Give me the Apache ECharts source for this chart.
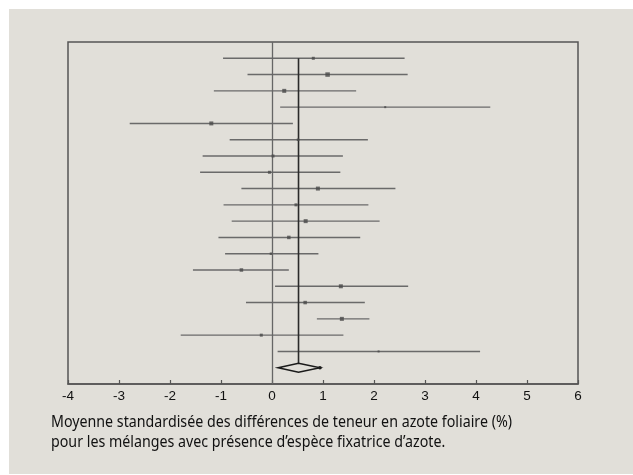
<!DOCTYPE html>
<html><head><meta charset="utf-8">
<script src="https://cdn.jsdelivr.net/npm/echarts@6/dist/echarts.min.js"></script>
<style>html,body{margin:0;padding:0;background:#fff}#c{width:633px;height:475px}</style>
</head><body><div id="c"></div>
<script>
// Study rows (top to bottom): effect size and 95% CI
const rows = [1,2,3,4,5,6,7,8,9,10,11,12,13,14,15,16,17,18,19];
const effect = [0.81,1.09,0.24,2.22,-1.19,0.51,0.02,-0.05,0.90,0.47,0.66,0.33,-0.02,-0.60,1.35,0.65,1.37,-0.21,2.09];
const ciLow  = [-0.96,-0.48,-1.14,0.16,-2.79,-0.83,-1.36,-1.41,-0.60,-0.95,-0.79,-1.05,-0.92,-1.55,0.06,-0.51,0.88,-1.79,0.11];
const ciHigh = [2.60,2.66,1.65,4.28,0.41,1.88,1.39,1.34,2.42,1.89,2.11,1.73,0.91,0.33,2.67,1.82,1.91,1.40,4.08];
const weights = [3,4.5,4,2,4,2.5,3,3,4,3,4,3.5,2.5,3.5,4,3.5,4,3,2];
// Pooled estimate
const pooled = {low: 0.12, mean: 0.52, high: 0.94, row: 20};
const xTicks = [-4,-3,-2,-1,0,1,2,3,4,5,6];
const caption = ["Moyenne standardisée des différences de teneur en azote foliaire (%)",
                 "pour les mélanges avec présence d’espèce fixatrice d’azote."];

const chart = echarts.init(document.getElementById('c'));
const ciData = rows.map((r,i)=>[ciLow[i], ciHigh[i], r]);
const ptData = rows.map((r,i)=>[effect[i], r, weights[i]]);

// measure caption to fit the original width
const cv = document.createElement('canvas').getContext('2d');
const capFont = '15.5px "Noto Sans"';
cv.font = capFont;
const w1 = cv.measureText(caption[0]).width;
const sx = 461 / w1;

chart.setOption({
  backgroundColor: '#fff',
  animation: false,
  graphic: [
    {type:'rect', shape:{x:9,y:9,width:624,height:465}, style:{fill:'#e1dfd9'}, z:-10},
    {type:'text', x:51, y:423, scaleX:sx, style:{text:caption[0], font:capFont, fill:'#111', textVerticalAlign:'middle'}},
    {type:'text', x:51, y:443, scaleX:sx, style:{text:caption[1], font:capFont, fill:'#111', textVerticalAlign:'middle'}}
  ],
  grid: {left:68, right:55, top:42, bottom:91, show:true, borderColor:'#555', borderWidth:1.5, backgroundColor:'transparent'},
  xAxis: {
    type:'value', min:-4, max:6, interval:1, position:'bottom',
    axisLine:{show:true, onZero:false, lineStyle:{color:'#555', width:1.5}},
    axisTick:{show:true, inside:true, length:4, lineStyle:{color:'#555', width:1.2}},
    axisLabel:{color:'#111', fontSize:13.5, fontFamily:'Liberation Sans', margin:5,
      formatter: v => xTicks.includes(v) ? String(v) : ''},
    splitLine:{show:false}
  },
  yAxis: {type:'value', min:0, max:21, inverse:true, show:false, splitLine:{show:false}},
  series: [
    {
      type:'custom', data: ciData, z:2,
      renderItem: (params, api) => {
        const a = api.coord([api.value(0), api.value(2)]);
        const b = api.coord([api.value(1), api.value(2)]);
        return {type:'line', shape:{x1:a[0],y1:a[1],x2:b[0],y2:b[1]}, style:{stroke:'#6a6a6a', lineWidth:1.4}};
      },
      markLine: {silent:true, symbol:'none', label:{show:false},
        lineStyle:{color:'#666', width:1.3, type:'solid'}, data:[{xAxis:0}]}
    },
    {
      type:'custom', data:[[pooled.low, pooled.mean, pooled.high, pooled.row]], z:4,
      renderItem: (params, api) => {
        const r = api.value(3);
        const L = api.coord([api.value(0), r]);
        const M = api.coord([api.value(1), r]);
        const R = api.coord([api.value(2), r]);
        const top = api.coord([api.value(1), 1]);
        const h = 4.5;
        return {type:'group', children:[
          {type:'line', shape:{x1:M[0],y1:top[1],x2:M[0],y2:M[1]-h}, style:{stroke:'#2a2a2a', lineWidth:1.6}},
          {type:'polygon', shape:{points:[[L[0],L[1]],[M[0],M[1]-h],[R[0],R[1]],[M[0],M[1]+h]]},
            style:{fill:'#e1dfd9', stroke:'#1a1a1a', lineWidth:1.5}},
          {type:'circle', shape:{cx:R[0], cy:R[1], r:1.8}, style:{fill:'#1a1a1a'}}
        ]};
      }
    },
    {
      type:'scatter', data: ptData, z:5, symbol:'rect',
      symbolSize: d => d[2],
      itemStyle:{color:'#4a4a4a'}
    }
  ]
});
</script></body></html>
